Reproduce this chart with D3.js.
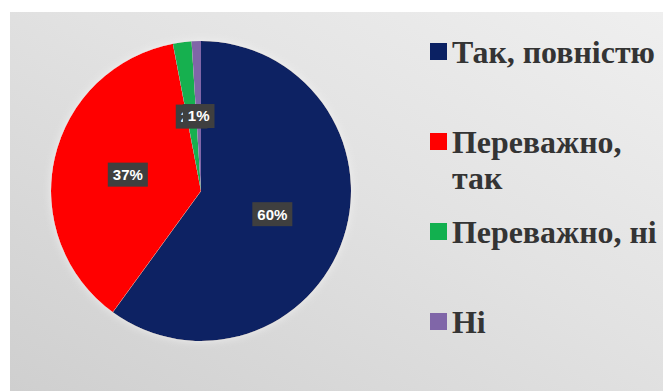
<!DOCTYPE html>
<html lang="uk">
<head>
<meta charset="UTF-8">
<title>Pie</title>
<script src="https://cdn.jsdelivr.net/npm/d3@7"></script>
<style>
    body { margin: 0; background: #fff; }
    svg { display: block; }
    .legend text { font-weight: bold; fill: #343434; }
    .lbl text { font-family: "Liberation Sans", Arial, sans-serif; font-weight: bold; font-size: 15px; fill: #fff; }
</style>
</head>
<body>
<div id="chart"></div>
<script>
    // data
    const categories = ["Так, повністю", "Переважно, так", "Переважно, ні", "Ні"]
    const values = [60, 37, 2, 1]
    const colors = ["#0b2163", "#ff0000", "#12b04f", "#8066a8"]
    // legend rows (line-broken as in the picture)
    const legendLines = [["Так, повністю"], ["Переважно,", "так"], ["Переважно, ні"], ["Ні"]]

    const width = 667, height = 391
    const cx = 201, cy = 191, r = 150

    const svg = d3.select("#chart").append("svg")
        .attr("width", width).attr("height", height)

    const defs = svg.append("defs")
    const grad = defs.append("linearGradient").attr("id", "bg")
        .attr("x1", "0%").attr("y1", "100%").attr("x2", "100%").attr("y2", "0%")
    grad.append("stop").attr("offset", "0%").attr("stop-color", "#cfcfcf")
    grad.append("stop").attr("offset", "55%").attr("stop-color", "#e2e2e2")
    grad.append("stop").attr("offset", "100%").attr("stop-color", "#efefef")

    const glow = defs.append("filter").attr("id", "glow")
        .attr("x", "-10%").attr("y", "-10%").attr("width", "120%").attr("height", "120%")
    glow.append("feGaussianBlur").attr("in", "SourceAlpha").attr("stdDeviation", 4).attr("result", "b")
    glow.append("feFlood").attr("flood-color", "#f4f4f4").attr("flood-opacity", 0.8)
    glow.append("feComposite").attr("in2", "b").attr("operator", "in").attr("result", "g")
    const merge = glow.append("feMerge")
    merge.append("feMergeNode").attr("in", "g")
    merge.append("feMergeNode").attr("in", "SourceGraphic")

    svg.append("rect")
        .attr("x", 10).attr("y", 12)
        .attr("width", 653).attr("height", height - 12)
        .attr("fill", "url(#bg)")

    const pie = d3.pie().sort(null).value(d => d)
    const arcs = pie(values)
    const arc = d3.arc().innerRadius(0).outerRadius(r)
    const labelArc = d3.arc().innerRadius(r * 0.5).outerRadius(r * 0.5)

    const g = svg.append("g").attr("transform", `translate(${cx},${cy})`)

    g.append("g").attr("filter", "url(#glow)")
        .selectAll("path")
        .data(arcs)
        .enter()
        .append("path")
        .attr("d", arc)
        .attr("fill", (d, i) => colors[i])

    // data labels, drawn in order so the 1% one sits on top of 2%
    const labels = g.selectAll(".lbl")
        .data(arcs)
        .enter()
        .append("g")
        .attr("class", "lbl")
        .attr("transform", d => {
            const c = labelArc.centroid(d)
            return `translate(${c[0]},${c[1]})`
        })

    labels.each(function (d) {
        const s = d3.select(this)
        const t = s.append("text")
            .attr("text-anchor", "middle")
            .attr("dy", "0.36em")
            .text(d.data + "%")
        const w = t.node().getComputedTextLength() + 10
        s.insert("rect", "text")
            .attr("x", -w / 2).attr("y", -12)
            .attr("width", w).attr("height", 24)
            .attr("fill", "#3f3f3f")
    })

    // legend
    const legendX = 430
    const rowY = [43, 133, 223, 313]
    const legend = svg.append("g").attr("class", "legend")
        .style("font-family", "'Liberation Serif', 'DejaVu Serif', serif")
        .style("font-size", "28px")
    categories.forEach((c, i) => {
        const row = legend.append("g").attr("transform", `translate(${legendX},${rowY[i]})`)
        row.append("rect")
            .attr("width", 17).attr("height", 17)
            .attr("fill", colors[i])
        const txt = row.append("text")
            .attr("x", 22)
            .attr("y", 20)
        legendLines[i].forEach((line, j) => {
            txt.append("tspan")
                .attr("x", 22)
                .attr("dy", j === 0 ? 0 : 36)
                .text(line)
        })
    })

    // the first legend line spans about 203px in the picture; fit font size to it
    const first = legend.select("text").node()
    const fs = 28 * 203 / first.getComputedTextLength()
    legend.style("font-size", fs + "px")
</script>
</body>
</html>
